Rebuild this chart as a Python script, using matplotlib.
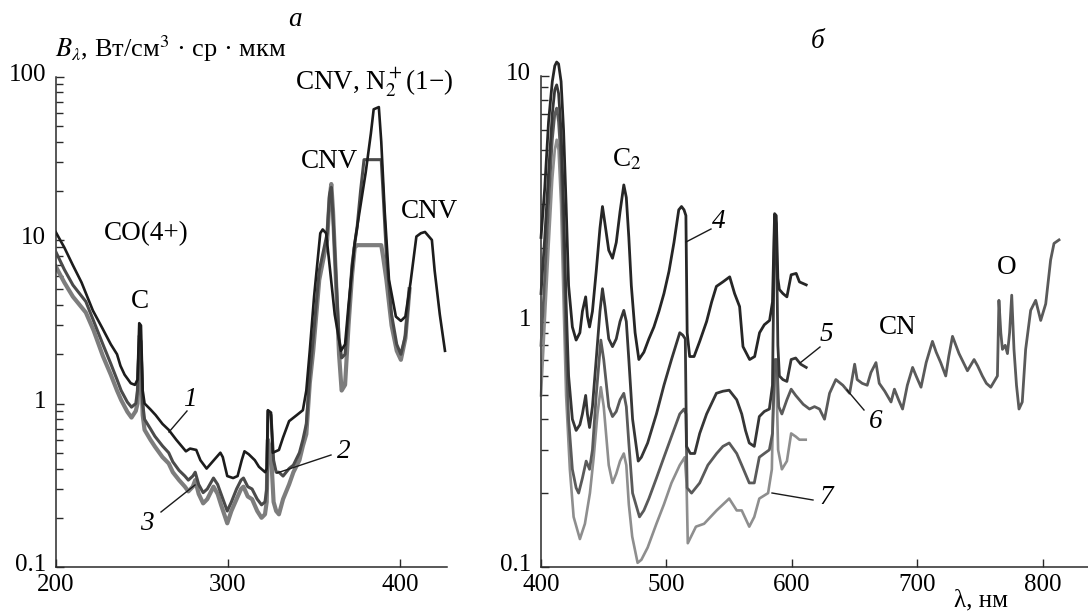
import matplotlib
matplotlib.use("Agg")
import matplotlib.pyplot as plt
import matplotlib.transforms as mtrans
import numpy as np

plt.rcParams['font.family'] = ['Liberation Serif', 'DejaVu Serif']
plt.rcParams['mathtext.fontset'] = 'stix'

# ---------------- data: panel a ----------------
wl_1 = [200, 205, 210, 215, 221.6, 227, 232, 235.6, 237.6, 240, 243.6, 246, 247.5, 248.5, 249.5, 250.5,
        251.6, 255, 258, 262, 265.6, 270, 275.6, 278, 281.6, 284, 287.6, 291, 295.6, 297, 299.6, 303,
        305.6, 308, 309.6, 312, 315.6, 318, 321.6, 322.5, 323.2, 325, 326, 329.6, 332, 335.5, 340, 343.5,
        345.5, 347.5, 350, 353.6, 355, 357, 359, 362, 365.6, 368, 370, 373.6, 376, 380, 383, 384.6, 387.6,
        389, 391, 393.5, 397.5, 400.4, 403, 406, 409.4, 412, 414.4, 418.4, 420, 423, 426]
b_1 = [11.2, 9.0, 7.0, 5.5, 3.7, 2.9, 2.3, 2.0, 1.7, 1.5, 1.33, 1.3, 1.4, 3.1, 3.0, 1.2,
       1.0, 0.92, 0.85, 0.75, 0.69, 0.6, 0.51, 0.53, 0.52, 0.45, 0.40, 0.44, 0.50, 0.47, 0.36, 0.35,
       0.36, 0.45, 0.51, 0.49, 0.45, 0.41, 0.38, 0.40, 0.91, 0.88, 0.5, 0.52, 0.62, 0.78, 0.85, 0.91,
       1.2, 2.1, 4.5, 11.0, 11.6, 11.0, 7.0, 3.5, 2.1, 2.3, 4.0, 9.6, 14, 26, 45, 63, 65,
       40, 15, 5.7, 3.4, 3.2, 3.4, 5.5, 10.5, 11.0, 11.2, 10.0, 6.5, 3.5, 2.1]

wl_23 = [200, 205, 210, 217.5, 222, 227.4, 232, 235.6, 238, 241.6, 244, 246.5, 247.5, 248.5, 249.5, 250.5,
         251.6, 255, 257.6, 262, 265.6, 268, 271.6, 275, 277, 279.6, 281, 283, 285.6, 288, 291.6, 294,
         296, 299.6, 302, 305, 307.6, 309, 311.5, 314, 317, 319.5, 321.5, 322.5, 323.2, 325, 326.5, 328,
         329.6, 332, 335.5, 338, 341.5, 343.5, 345.5, 347.5, 349.5, 353, 357.6, 359, 360, 361, 362.7,
         364.5, 366, 368, 370, 372, 373.6, 375, 377, 379, 389, 390, 392, 395, 398, 400.4, 403, 405.4]
b_2 = [8.5, 6.6, 5.3, 4.2, 3.2, 2.3, 1.75, 1.4, 1.2, 1.02, 0.95, 1.0, 1.2, 2.6, 2.4, 1.0,
       0.8, 0.7, 0.63, 0.55, 0.5, 0.44, 0.39, 0.36, 0.34, 0.36, 0.38, 0.32, 0.285, 0.3, 0.35, 0.32,
       0.28, 0.22, 0.25, 0.3, 0.34, 0.35, 0.31, 0.3, 0.26, 0.24, 0.25, 0.3, 0.9, 0.85, 0.45, 0.38,
       0.38, 0.36, 0.4, 0.42, 0.5, 0.6, 0.75, 1.5, 2.5, 6.5, 11, 19, 21, 14, 6,
       2.5, 1.9, 2.0, 3.5, 7.0, 9.5, 12, 20, 31, 31, 20, 8, 3.5, 2.3, 2.0, 2.6, 5.0]
b_3 = [6.9, 5.5, 4.5, 3.6, 2.8, 1.95, 1.5, 1.2, 1.05, 0.89, 0.82, 0.9, 1.0, 2.0, 1.8, 0.85,
       0.69, 0.6, 0.545, 0.47, 0.43, 0.38, 0.34, 0.31, 0.29, 0.31, 0.34, 0.28, 0.245, 0.26, 0.31, 0.28,
       0.24, 0.185, 0.22, 0.26, 0.30, 0.31, 0.27, 0.26, 0.22, 0.20, 0.21, 0.25, 0.6, 0.5, 0.25, 0.22,
       0.21, 0.26, 0.32, 0.38, 0.45, 0.55, 0.65, 1.33, 2.1, 5.7, 10, 18, 22, 15, 5.7,
       2.0, 1.2, 1.3, 3.0, 6.0, 9.0, 9.3, 9.3, 9.3, 9.3, 8.0, 5.7, 3.0, 2.1, 1.85, 2.5, 5.0]

# ---------------- data: panel б ----------------
wl_4 = [400, 403, 406, 409, 411, 412.5, 414, 416, 418, 420, 422, 425, 428, 431, 433, 435.6, 437, 438.7,
        441, 444, 447, 449, 451, 454, 457, 460, 463, 466, 468, 470, 472, 475, 478, 482, 486, 490, 494,
        498, 502, 506, 509.8, 512, 514, 515.5, 516.5, 518.5, 522, 526.5, 532, 536, 539.8, 545, 550.4,
        554.3, 558.3, 561, 566.3, 570.3, 574.2, 578, 582.2, 584.5, 586.2, 587.5, 588.8, 590, 592.8, 596,
        599.4, 603.4, 606, 611.4]
b_4 = [2.2, 3.5, 6.5, 9.5, 11.0, 11.4, 11.2, 9.5, 6.0, 3.0, 1.4, 0.95, 0.84, 0.9, 1.1, 1.26, 1.05, 0.95,
       1.1, 1.6, 2.4, 2.94, 2.5, 1.95, 1.81, 2.1, 2.8, 3.6, 3.2, 2.2, 1.4, 0.9, 0.70, 0.75, 0.85, 0.95, 1.1,
       1.3, 1.6, 2.1, 2.85, 2.94, 2.85, 2.7, 0.9, 0.72, 0.72, 0.83, 1.0, 1.2, 1.39, 1.45, 1.52,
       1.30, 1.15, 0.79, 0.70, 0.72, 0.9, 0.97, 1.01, 1.2, 2.75, 2.7, 1.5, 1.35, 1.3, 1.26,
       1.55, 1.57, 1.45, 1.41]

wl_5 = [400, 403, 406, 409, 411, 412.5, 414, 416, 418, 420, 422, 425, 428, 431, 433, 435.6, 437, 438.7,
        441, 444, 447, 449, 451, 454, 457, 460, 463, 466, 468, 470, 473, 477.5, 480, 485, 492, 498, 504,
        510.6, 513, 515, 516, 519, 522.5, 526.5, 532, 539.8, 545, 550, 556, 560, 563, 566, 570, 574, 578,
        582, 584.5, 586.2, 587.5, 588.8, 590, 592.8, 596, 599.4, 603, 607, 611.4]
b_5 = [1.3, 2.2, 4.0, 7.0, 8.8, 9.2, 8.5, 6.0, 3.0, 1.2, 0.6, 0.4, 0.36, 0.38, 0.42, 0.50, 0.42, 0.37,
       0.45, 0.7, 1.1, 1.36, 1.15, 0.85, 0.79, 0.85, 1.0, 1.11, 1.0, 0.7, 0.4, 0.27, 0.28, 0.32, 0.42, 0.55, 0.7,
       0.9, 0.88, 0.85, 0.31, 0.29, 0.29, 0.35, 0.42, 0.51, 0.52, 0.525, 0.48, 0.42, 0.36, 0.32, 0.31, 0.41, 0.43,
       0.44, 0.55, 2.7, 2.5, 0.8, 0.6, 0.58, 0.57, 0.70, 0.71, 0.67, 0.65]

wl_6 = [400, 403, 406, 409, 411, 412.5, 414, 416, 418, 420, 422, 425, 428, 430, 433, 436, 438.7, 441, 444,
        447.7, 450, 454, 457, 460, 463, 466, 468, 470, 473, 478.5, 482, 486, 492, 498, 504, 510.6, 514,
        515.5, 516.5, 520, 526.5, 533, 540, 545, 550, 556, 560, 566, 570, 574, 578, 582, 584.5, 586.5, 588,
        589.5, 592, 596, 599.4, 603, 609, 614, 618, 622, 626, 630, 635, 640.6, 646, 650, 652, 656, 660, 663,
        667, 669.6, 674, 679, 681.7, 685, 688.2, 692, 696.2, 699, 702.9, 707, 712, 715, 718.6, 722.6, 725,
        728, 733.2, 739.9, 745.2, 748, 751.8, 755, 758.5, 763.8, 765, 766.5, 767.8, 770, 771.8, 773.5, 775.2,
        777, 779, 781, 783.6, 786.3, 790.3, 794.3, 798.3, 802.3, 806.2, 808.9, 812.9]
b_6 = [0.8, 1.5, 3.0, 5.5, 7.0, 7.4, 6.5, 4.5, 2.0, 0.8, 0.4, 0.25, 0.21, 0.20, 0.23, 0.27, 0.25, 0.3, 0.5,
       0.84, 0.7, 0.45, 0.41, 0.43, 0.48, 0.51, 0.45, 0.32, 0.2, 0.16, 0.17, 0.19, 0.23, 0.28, 0.34, 0.42, 0.44,
       0.42, 0.21, 0.2, 0.22, 0.26, 0.29, 0.31, 0.32, 0.29, 0.26, 0.22, 0.22, 0.28, 0.29, 0.30, 0.35, 0.7, 0.7,
       0.45, 0.42, 0.48, 0.53, 0.5, 0.46, 0.44, 0.45, 0.44, 0.40, 0.51, 0.58, 0.55, 0.51, 0.67, 0.58, 0.56, 0.55, 0.62,
       0.68, 0.56, 0.52, 0.47, 0.53, 0.48, 0.44, 0.55, 0.65, 0.6, 0.54, 0.68, 0.83, 0.75, 0.68, 0.60, 0.72,
       0.87, 0.74, 0.63, 0.70, 0.66, 0.60, 0.56, 0.54, 0.60, 1.22, 0.9, 0.77, 0.8, 0.74, 0.9, 1.28,
       0.77, 0.55, 0.44, 0.47, 0.77, 1.11, 1.22, 1.01, 1.18, 1.78, 2.08, 2.15]

wl_7 = [400, 403, 406, 409, 411, 412.5, 414, 416, 418, 420, 423, 426, 431, 435, 439, 442, 445, 447.7, 450,
        454, 457, 460, 463, 466, 468, 470, 472.7, 477, 480, 485, 492, 498, 504, 510.6, 514.6, 516, 517,
        523.5, 530, 540, 550, 556, 560, 566, 570, 574, 581, 584, 585.5, 587.5, 589, 592, 596, 599.4, 603,
        606, 611]
b_7 = [0.5, 1.0, 2.0, 3.8, 5.0, 5.5, 5.0, 3.0, 1.2, 0.5, 0.25, 0.16, 0.13, 0.15, 0.20, 0.28, 0.42, 0.54, 0.45,
       0.26, 0.22, 0.24, 0.27, 0.29, 0.26, 0.18, 0.133, 0.104, 0.107, 0.12, 0.15, 0.18, 0.22, 0.26, 0.28, 0.22, 0.125,
       0.146, 0.15, 0.17, 0.19, 0.17, 0.17, 0.146, 0.16, 0.19, 0.20, 0.25, 0.6, 0.62, 0.3, 0.25, 0.27, 0.35, 0.34,
       0.33, 0.33]

ticks_a = [200, 300, 400]
ticks_b = [400, 500, 600, 700, 800]

# ---------------- figure ----------------
W, H = 1088, 616
fig = plt.figure(figsize=(W / 100, H / 100), dpi=100)


def fpos(x, y):
    return (x / W, 1 - y / H)


axA = fig.add_axes([55.7 / W, (H - 567) / H, (446.7 - 55.7) / W, (567 - 76.5) / H])
axB = fig.add_axes([541 / W, (H - 567) / H, (1088 - 541) / W, (567 - 76) / H])

FS = 18
FA = 19.5
up = mtrans.ScaledTranslation(0, 3 / 72, fig.dpi_scale_trans)
for ax in (axA, axB):
    ax.set_yscale('log')
    for s in ('top', 'right'):
        ax.spines[s].set_visible(False)
    for s in ('left', 'bottom'):
        ax.spines[s].set_linewidth(1.1)
        ax.spines[s].set_color('#2a2a2a')
    ax.tick_params(which='both', direction='in', labelsize=FS, color='#2a2a2a', width=1.0)
    ax.tick_params(which='major', length=6)
    ax.tick_params(which='minor', length=5)
    ax.tick_params(axis='x', which='minor', bottom=False)
    ax.tick_params(axis='x', pad=5)
    ax.tick_params(axis='y', pad=7)
    ax.patch.set_alpha(0)

axA.set_xlim(200, 427)
axA.set_ylim(0.1, 100)
axA.set_xticks(ticks_a)
axA.set_xticklabels([str(t) for t in ticks_a])
axA.set_yticks([0.1, 1, 10, 100])
axA.set_yticklabels(['0.1', '1', '10', '100'])

axB.set_xlim(400, 836)
axB.set_ylim(0.1, 10)
axB.set_xticks(ticks_b)
axB.set_xticklabels([str(t) for t in ticks_b])
axB.set_yticks([0.1, 1, 10])
axB.set_yticklabels(['0.1', '1', '10'])

for ax in (axA, axB):
    for lab in ax.get_yticklabels():
        lab.set_transform(lab.get_transform() + up)

# panel a curves
axA.plot(wl_23, b_3, color='#7d7d7d', lw=3.0, zorder=2)
axA.plot(wl_23, b_2, color='#4a4a4a', lw=2.2, zorder=3)
axA.plot(wl_1, b_1, color='#1c1c1c', lw=1.9, zorder=4)

# panel б curves
axB.plot(wl_7, b_7, color='#8e8e8e', lw=1.9, zorder=2, clip_on=False)
axB.plot(wl_6, b_6, color='#5a5a5a', lw=2.0, zorder=3, clip_on=False)
axB.plot(wl_5, b_5, color='#363636', lw=2.0, zorder=4, clip_on=False)
axB.plot(wl_4, b_4, color='#262626', lw=2.0, zorder=5, clip_on=False)

# ---------------- texts ----------------
def ftext(x, y, s, **kw):
    kw.setdefault('fontsize', FA)
    kw.setdefault('ha', 'center')
    kw.setdefault('va', 'center')
    fig.text(*fpos(x, y), s, **kw)


def leader(x0, y0, x1, y1):
    fig.add_artist(plt.Line2D([x0 / W, x1 / W], [1 - y0 / H, 1 - y1 / H], color='#1a1a1a', lw=1.0))


ftext(55, 57, r'$B_{\lambda}$, Вт/см$^3$ · ср · мкм', ha='left', va='baseline', fontsize=19)
ftext(295, 20, 'a', style='italic')
ftext(374, 83, r'CNV, N$_2^+$(1−)')
ftext(330, 162, 'CNV')
ftext(430, 212, 'CNV')
ftext(146, 234, 'CO(4+)')
ftext(140, 302, 'C')

ftext(190, 400, '1', style='italic')
leader(187, 411, 169, 432)
ftext(344, 451, '2', style='italic')
leader(331, 455, 277, 473)
ftext(147, 523, '3', style='italic')
leader(161, 512, 195, 485)

ftext(818, 41, 'б', style='italic')
ftext(627, 160, r'C$_2$')
ftext(719, 222, '4', style='italic')
leader(711, 229, 686, 242)
ftext(1007, 267, 'O')
ftext(898, 327, 'CN')
ftext(826, 335, '5', style='italic')
leader(820, 347, 800, 363)
ftext(876, 422, '6', style='italic')
leader(864, 410, 847, 390)
ftext(826, 497, '7', style='italic')
leader(813, 500, 772, 493)
ftext(981, 600, 'λ, нм', fontsize=18)

fig.savefig('out.png', dpi=100)
